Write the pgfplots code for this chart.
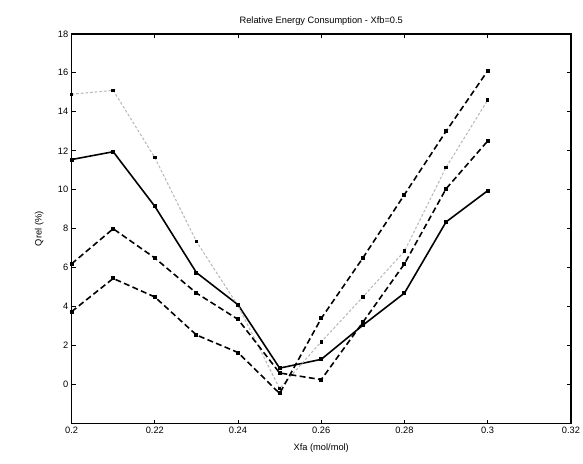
\documentclass[border=0pt]{standalone}
\usepackage{fontspec}
\setmainfont{Liberation Sans}
\usepackage{pgfplots}
\pgfplotsset{compat=1.18}
\begin{document}
\begin{tikzpicture}
\fontsize{7}{8}\selectfont
\begin{axis}[
  at={(0,0)}, anchor=south west,
  scale only axis, width=376.5pt, height=294pt,
  xmin=0.2, xmax=0.32, ymin=-2, ymax=18,
  xtick={0.2,0.22,0.24,0.26,0.28,0.3,0.32},
  xticklabels={0.2,0.22,0.24,0.26,0.28,0.3,0.32},
  ytick={0,2,4,6,8,10,12,14,16,18},
  tick align=inside, major tick length=3pt,
  axis line style={line width=1.2pt},
  every tick/.style={line width=0.8pt, black},
  tick label style={font=\fontsize{7}{8}\selectfont},
  /pgf/number format/assume math mode=true,
  title={Relative Energy Consumption - Xfb=0.5},
  title style={font=\fontsize{7}{8}\selectfont, yshift=-2pt},
  xlabel={Xfa (mol/mol)}, ylabel={Qrel (\%)},
  label style={font=\fontsize{7}{8}\selectfont},
  xlabel style={yshift=-3pt},
  ylabel style={yshift=6pt},
  clip=false,
]
\addplot[black, line width=1.2pt, mark=square*, mark size=0.9pt] coordinates {
 (0.20,11.55) (0.21,11.95) (0.22,9.15) (0.23,5.75) (0.24,4.1) (0.25,0.85)
 (0.26,1.3) (0.27,3.05) (0.28,4.7) (0.29,8.35) (0.30,9.95)};
\addplot[gray!55, line width=0.8pt, dash pattern=on 2pt off 1.5pt, mark=square*, mark size=0.9pt, mark options={solid, black}] coordinates {
 (0.20,14.9) (0.21,15.1) (0.22,11.65) (0.23,7.35) (0.24,4.05) (0.25,-0.2)
 (0.26,2.2) (0.27,4.5) (0.28,6.85) (0.29,11.15) (0.30,14.6)};
\addplot[black, line width=1.2pt, dash pattern=on 4.5pt off 2.5pt, mark=square*, mark size=0.9pt, mark options={solid}] coordinates {
 (0.20,6.2) (0.21,8.0) (0.22,6.5) (0.23,4.7) (0.24,3.35) (0.25,0.6)
 (0.26,0.26) (0.27,3.2) (0.28,6.2) (0.29,10.05) (0.30,12.5)};
\addplot[black, line width=1.2pt, dash pattern=on 4.5pt off 2.5pt, mark=square*, mark size=0.9pt, mark options={solid}] coordinates {
 (0.20,3.75) (0.21,5.45) (0.22,4.5) (0.23,2.55) (0.24,1.65) (0.25,-0.45)
 (0.26,3.4) (0.27,6.5) (0.28,9.75) (0.29,13.0) (0.30,16.1)};
\end{axis}
\path[use as bounding box] (-54pt,-30pt) rectangle (383.25pt,319.5pt);
\end{tikzpicture}
\end{document}
